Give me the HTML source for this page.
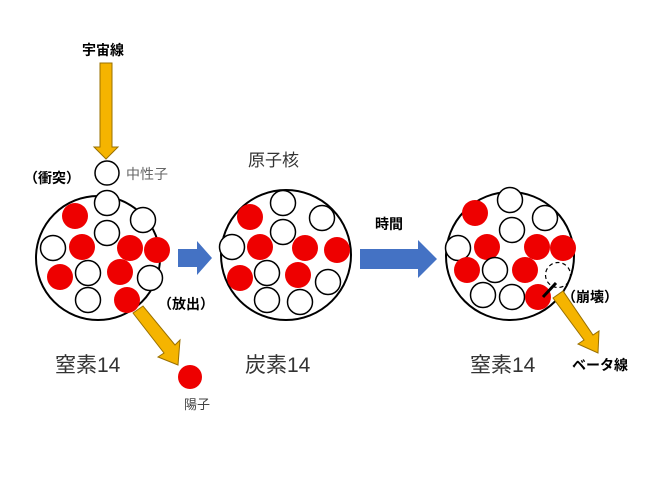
<!DOCTYPE html>
<html><head><meta charset="utf-8"><style>
body{margin:0;background:#fff}
text{font-family:"Liberation Sans","Noto Sans CJK JP",sans-serif}
</style></head><body>
<svg width="660" height="495" viewBox="0 0 660 495" xmlns="http://www.w3.org/2000/svg">
<defs>
<g id="w"><circle r="12.5" fill="#fff" stroke="#000" stroke-width="1.5"/></g>
<g id="r"><circle r="13" fill="#ee0000"/></g>
</defs>
<!-- cosmic ray arrow -->
<polygon points="100,63 112,63 112,147 118,147 106,159 94,147 100,147" fill="#f5b400" stroke="#9a7000" stroke-width="1"/>
<text x="82" y="55" font-size="14" font-weight="bold">宇宙線</text>
<circle cx="107" cy="173" r="12" fill="#fff" stroke="#000" stroke-width="1.5"/>
<text x="24" y="183" font-size="14" font-weight="bold">（衝突）</text>
<text x="126" y="179" font-size="14" fill="#666">中性子</text>

<!-- nucleus 1 -->
<circle cx="98" cy="258" r="62" fill="#fff" stroke="#000" stroke-width="2"/>
<use href="#w" x="107" y="203"/><use href="#r" x="75" y="216"/><use href="#w" x="143" y="220"/>
<use href="#w" x="107" y="233"/><use href="#w" x="53" y="248"/><use href="#r" x="82" y="247"/>
<use href="#r" x="130" y="248"/><use href="#r" x="157" y="250"/><use href="#r" x="60" y="277"/>
<use href="#w" x="88" y="273"/><use href="#r" x="120" y="272"/><use href="#w" x="150" y="278"/>
<use href="#w" x="88" y="300"/><use href="#r" x="127" y="300"/>
<!-- emission arrow -->
<polygon points="133,313 143,306 175,345 180,340 178,365 158,357 164,353" fill="#f5b400" stroke="#9a7000" stroke-width="1"/>
<text x="158" y="309" font-size="14" font-weight="bold">（放出）</text>
<circle cx="190" cy="377" r="12" fill="#ee0000"/>
<text x="184" y="409" font-size="13" fill="#444">陽子</text>
<text x="55" y="372" font-size="21" fill="#333">窒素14</text>

<!-- small blue arrow -->
<polygon points="178,249 197,249 197,241 212,258 197,275 197,267 178,267" fill="#4472c4"/>

<!-- nucleus 2 -->
<text x="248" y="166" font-size="17" fill="#333">原子核</text>
<circle cx="286" cy="255" r="65" fill="#fff" stroke="#000" stroke-width="2"/>
<use href="#w" x="283" y="203"/><use href="#r" x="250" y="217"/><use href="#w" x="322" y="218"/>
<use href="#w" x="283" y="232"/><use href="#w" x="232" y="247"/><use href="#r" x="260" y="247"/>
<use href="#r" x="305" y="248"/><use href="#r" x="337" y="250"/><use href="#r" x="240" y="278"/>
<use href="#w" x="267" y="273"/><use href="#r" x="298" y="275"/><use href="#w" x="328" y="282"/>
<use href="#w" x="267" y="300"/><use href="#w" x="300" y="302"/>
<text x="245" y="372" font-size="21" fill="#333">炭素14</text>

<!-- big blue arrow -->
<text x="375" y="229" font-size="14" font-weight="bold">時間</text>
<polygon points="360,249 418,249 418,240 437,259 418,278 418,269 360,269" fill="#4472c4"/>

<!-- nucleus 3 -->
<circle cx="510" cy="256" r="64" fill="#fff" stroke="#000" stroke-width="2"/>
<use href="#w" x="510" y="200"/><use href="#r" x="475" y="213"/><use href="#w" x="545" y="218"/>
<use href="#w" x="512" y="230"/><use href="#w" x="458" y="248"/><use href="#r" x="487" y="247"/>
<use href="#r" x="537" y="247"/><use href="#r" x="563" y="248"/><use href="#r" x="467" y="270"/>
<use href="#w" x="495" y="270"/><use href="#r" x="525" y="270"/>
<circle cx="558" cy="275" r="12.5" fill="none" stroke="#000" stroke-width="1.2" stroke-dasharray="4,3"/>
<use href="#w" x="483" y="295"/><use href="#w" x="512" y="297"/><use href="#r" x="538" y="297"/>
<line x1="556" y1="283" x2="543" y2="297" stroke="#000" stroke-width="3"/>
<!-- beta arrow -->
<polygon points="553,298 563,291 593,335 599,331 598,353 578,344 584,340" fill="#f5b400" stroke="#9a7000" stroke-width="1"/>
<text x="562" y="302" font-size="14" font-weight="bold">（崩壊）</text>
<text x="572" y="370" font-size="14" font-weight="bold">ベータ線</text>
<text x="470" y="372" font-size="21" fill="#333">窒素14</text>
</svg>
</body></html>
